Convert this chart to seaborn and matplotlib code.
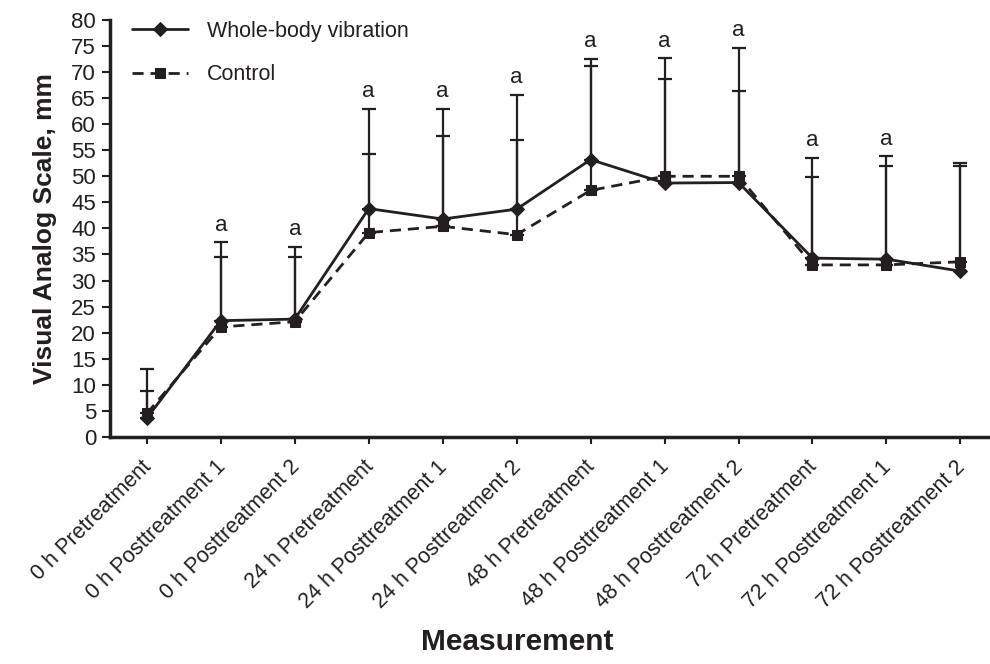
import numpy as np
import pandas as pd
import seaborn as sns
import matplotlib.pyplot as plt
import matplotlib.transforms as mtransforms

# categorias del eje x
measurements = [
    "0 h Pretreatment", "0 h Posttreatment 1", "0 h Posttreatment 2",
    "24 h Pretreatment", "24 h Posttreatment 1", "24 h Posttreatment 2",
    "48 h Pretreatment", "48 h Posttreatment 1", "48 h Posttreatment 2",
    "72 h Pretreatment", "72 h Posttreatment 1", "72 h Posttreatment 2",
]

# medias
wbv_mean = [3.6, 22.3, 22.6, 43.8, 41.8, 43.7, 53.2, 48.7, 48.8, 34.3, 34.1, 31.8]
ctrl_mean = [4.5, 21.1, 22.1, 39.2, 40.4, 38.8, 47.3, 50.0, 50.0, 33.0, 33.0, 33.6]

# extremos superiores de las barras de error (media + DE)
wbv_top = [13.0, 37.3, 36.4, 62.9, 62.9, 65.6, 72.5, 72.6, 74.6, 53.5, 53.8, 52.6]
ctrl_top = [8.8, 34.5, 34.6, 54.3, 57.8, 56.9, 71.1, 68.6, 66.4, 49.9, 51.9, 52.0]

# marcas de significancia
sig = ["", "a", "a", "a", "a", "a", "a", "a", "a", "a", "a", ""]

sns.set_style("ticks")
plt.rcParams["font.family"] = ["Liberation Sans", "DejaVu Sans"]

df = pd.DataFrame({
    "x": list(range(len(measurements))) * 2,
    "vas": wbv_mean + ctrl_mean,
    "group": ["Whole-body vibration"] * len(measurements) + ["Control"] * len(measurements),
})

ink = "#231f20"
fig = plt.figure(figsize=(9.9, 6.64), dpi=100)
ax = fig.add_axes([0.111, 0.342, 0.889, 0.628])

# barras de error (solo hacia arriba)
x = np.arange(len(measurements))
for mean, top in [(wbv_mean, wbv_top), (ctrl_mean, ctrl_top)]:
    mean = np.array(mean)
    err = np.array(top) - mean
    ax.errorbar(x, mean, yerr=[np.zeros_like(err), err], fmt="none",
                ecolor=ink, elinewidth=1.6, capsize=5, capthick=1.6, zorder=2)

sns.lineplot(data=df, x="x", y="vas", hue="group", style="group",
             hue_order=["Whole-body vibration", "Control"],
             style_order=["Whole-body vibration", "Control"],
             palette=[ink, ink], markers=["D", "s"],
             dashes=[(None, None), (4, 2.5)], linewidth=2,
             markersize=7.5, markeredgecolor=ink, ax=ax, zorder=3)

for xi, top, s in zip(x, wbv_top, sig):
    if s:
        ax.text(xi, top + 1.3, s, ha="center", va="bottom", fontsize=16, color=ink)

ax.set_xlim(-0.5, 11.4)
ax.set_ylim(0, 80)
ax.set_yticks(range(0, 81, 5))
ax.set_xticks(x)
ax.set_xticklabels(measurements, rotation=45, ha="right", rotation_mode="anchor", fontsize=15.5)
ax.tick_params(axis="y", labelsize=16, direction="out", length=6, width=1.5, colors=ink, pad=4)
ax.tick_params(axis="x", direction="out", length=5, width=1.5, colors=ink, pad=9)
shift = mtransforms.ScaledTranslation(-6 / 100, 0, fig.dpi_scale_trans)
for lab in ax.get_xticklabels():
    lab.set_transform(lab.get_transform() + shift)
for lab in ax.get_xticklabels() + ax.get_yticklabels():
    lab.set_color(ink)

ax.spines["top"].set_visible(False)
ax.spines["right"].set_visible(False)
ax.spines["left"].set_linewidth(2.5)
ax.spines["bottom"].set_linewidth(2.5)
ax.spines["left"].set_color(ink)
ax.spines["bottom"].set_color(ink)

ax.set_xlabel("")
ax.set_ylabel("Visual Analog Scale, mm", fontsize=19, fontweight="bold", color=ink, labelpad=10)
fig.text(0.522, 0.012, "Measurement", ha="center", va="bottom", fontsize=21.5,
         fontweight="bold", color=ink)

leg = ax.legend(loc="upper left", bbox_to_anchor=(0.003, 1.045), frameon=False,
                fontsize=15.5, handlelength=2.6, labelspacing=1.05, handletextpad=0.9)
for t in leg.get_texts():
    t.set_color(ink)

fig.savefig("out.png", dpi=100)
plt.close(fig)
